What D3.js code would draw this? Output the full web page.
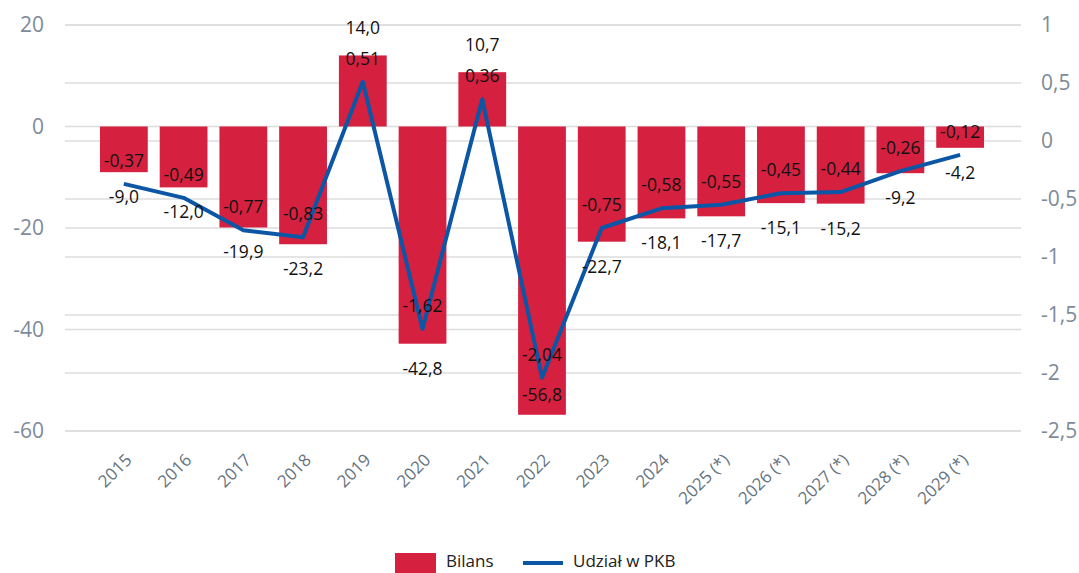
<!DOCTYPE html>
<html>
<head>
<meta charset="utf-8">
<script src="https://cdn.jsdelivr.net/npm/d3@7"></script>
<style>
  body { margin: 0; background: #fff; }
  svg { display: block; font-family: "Open Sans", sans-serif; }
</style>
</head>
<body>
<div id="chart"></div>
<script>
const years = ["2015", "2016", "2017", "2018", "2019", "2020", "2021", "2022", "2023", "2024",
    "2025 (*)", "2026 (*)", "2027 (*)", "2028 (*)", "2029 (*)"];
const bilans = [-9.0, -12.0, -19.9, -23.2, 14.0, -42.8, 10.7, -56.8, -22.7, -18.1, -17.7, -15.1, -15.2, -9.2, -4.2];
const udzial = [-0.37, -0.49, -0.77, -0.83, 0.51, -1.62, 0.36, -2.04, -0.75, -0.58, -0.55, -0.45, -0.44, -0.26, -0.12];
const leftTicks = [20, 0, -20, -40, -60];
const rightTicks = [1, 0.5, 0, -0.5, -1, -1.5, -2, -2.5];

const width = 1079;
const height = 573;
const plot = { left: 65, right: 1021, top: 25, bottom: 431 };

const red = "#d52040";
const blue = "#0b56a5";
const fmt = (v, d) => v.toFixed(d).replace(".", ",");

const svg = d3.select("#chart")
    .append("svg")
    .attr("width", width)
    .attr("height", height);

// Scales
const x = d3.scaleBand()
    .domain(years)
    .range([94, 990])
    .paddingInner(0.2)
    .paddingOuter(0.1);

const yL = d3.scaleLinear().domain([-60, 20]).range([plot.bottom, plot.top]);
const yR = d3.scaleLinear().domain([-2.5, 1]).range([plot.bottom, plot.top]);

// Gridlines for both axes
const grid = svg.append("g").attr("stroke", "#dcdcdc").attr("stroke-width", 1.5);
leftTicks.forEach(t => grid.append("line")
    .attr("x1", plot.left).attr("x2", plot.right)
    .attr("y1", yL(t)).attr("y2", yL(t)));
rightTicks.forEach(t => grid.append("line")
    .attr("x1", plot.left).attr("x2", plot.right)
    .attr("y1", yR(t)).attr("y2", yR(t)));

// Axes
const axisL = svg.append("g")
    .attr("transform", `translate(${plot.left - 18},0)`)
    .call(d3.axisLeft(yL).tickValues(leftTicks).tickSize(0).tickFormat(d => d));
const axisR = svg.append("g")
    .attr("transform", `translate(${plot.right + 17},0)`)
    .call(d3.axisRight(yR).tickValues(rightTicks).tickSize(0).tickFormat(d => String(d).replace(".", ",")));
[axisL, axisR].forEach(a => {
    a.select(".domain").remove();
    a.selectAll("text").attr("font-size", 21).attr("fill", "#7d8b99").attr("font-family", "Open Sans");
});

const axisX = svg.append("g")
    .attr("transform", `translate(0,${plot.bottom})`)
    .call(d3.axisBottom(x).tickSize(0));
axisX.select(".domain").remove();
axisX.selectAll("text")
    .attr("font-size", 17)
    .attr("font-family", "Open Sans")
    .attr("fill", "#66737f")
    .attr("text-anchor", "end")
    .attr("dy", null)
    .attr("y", 0)
    .attr("transform", "translate(9,30) rotate(-45)");

// Bars
svg.append("g").selectAll("rect")
    .data(bilans)
    .join("rect")
    .attr("x", (d, i) => x(years[i]))
    .attr("width", x.bandwidth())
    .attr("y", d => yL(Math.max(0, d)))
    .attr("height", d => Math.abs(yL(d) - yL(0)))
    .attr("fill", red);

// Line
const line = d3.line()
    .x((d, i) => x(years[i]) + x.bandwidth() / 2)
    .y(d => yR(d));

svg.append("path")
    .datum(udzial)
    .attr("d", line)
    .attr("fill", "none")
    .attr("stroke", blue)
    .attr("stroke-width", 4)
    .attr("stroke-linejoin", "round");

// Labels
const labels = svg.append("g")
    .attr("font-size", 17.5)
    .attr("fill", "#111")
    .attr("text-anchor", "middle")
    .attr("dominant-baseline", "central");

bilans.forEach((d, i) => {
    const cx = x(years[i]) + x.bandwidth() / 2;
    let y;
    if (d >= 0) y = yL(d) - 28;
    else if (yL(d) + 34 > plot.bottom) y = yL(d) - 21;
    else y = yL(d) + 24;
    labels.append("text").attr("x", cx).attr("y", y).text(fmt(d, 1));
});

udzial.forEach((d, i) => {
    const cx = x(years[i]) + x.bandwidth() / 2;
    labels.append("text").attr("x", cx).attr("y", yR(d) - 24).text(fmt(d, 2));
});

// Legend
const legend = svg.append("g").attr("font-size", 17).attr("fill", "#222");
legend.append("rect").attr("x", 395).attr("y", 553).attr("width", 41).attr("height", 20).attr("fill", red);
legend.append("text").attr("x", 446).attr("y", 567).text("Bilans");
legend.append("line").attr("x1", 523).attr("x2", 563).attr("y1", 563).attr("y2", 563)
    .attr("stroke", blue).attr("stroke-width", 4);
legend.append("text").attr("x", 573).attr("y", 567).text("Udział w PKB");
</script>
</body>
</html>
